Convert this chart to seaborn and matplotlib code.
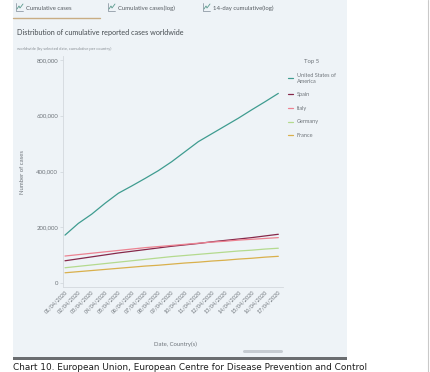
"""Cumulative reported cases, top 5 countries - recreated screenshot panel."""

import numpy as np
import pandas as pd
import matplotlib
matplotlib.use("Agg")
import matplotlib.pyplot as plt
from matplotlib.lines import Line2D
from matplotlib.patches import Rectangle, FancyBboxPatch
import seaborn as sns

# Data
DATES = [f"{d:02d}/04/2020" for d in range(1, 18)]
COUNTRIES = ["United States of America", "Spain", "Italy", "Germany", "France"]
USA = [172000, 214000, 247000, 286000, 322000, 348000, 375000, 403000, 435000,
       471000, 507000, 535000, 563000, 591000, 621000, 650000, 680000]
SPAIN = [80000, 87000, 94000, 101000, 108000, 114000, 120000, 126000, 132000,
         137000, 142000, 148000, 153000, 158000, 163000, 169000, 175000]
ITALY = [97000, 102000, 107000, 112000, 117000, 122000, 127000, 131000, 135000,
         139000, 143000, 147000, 150000, 154000, 157000, 160000, 163000]
GERMANY = [55000, 60000, 65000, 70000, 75000, 80000, 85000, 90000, 95000,
           99000, 103000, 107000, 111000, 115000, 118000, 122000, 125000]
FRANCE = [37000, 41000, 45000, 49000, 53000, 57000, 61000, 64000, 68000,
          72000, 75000, 79000, 82000, 86000, 89000, 93000, 96000]
TABS = ["Cumulative cases", "Cumulative cases(log)", "14-day cumulative(log)"]

COLORS = {
    "United States of America": "#3f9c90",
    "Spain": "#86284a",
    "Italy": "#ec8291",
    "Germany": "#b4da8e",
    "France": "#d9b04c",
}

W, H = 430, 372
PANEL = "#eef3f7"
GREY = "#6f757b"

sns.set_theme(style="white")
plt.rcParams["font.family"] = ["Lato", "DejaVu Sans"]

series = [USA, SPAIN, ITALY, GERMANY, FRANCE]
rows = []
for name, vals in zip(COUNTRIES, series):
    for i, v in enumerate(vals):
        rows.append({"Day": i, "Date": DATES[i], "Country": name, "Cases": v})
df = pd.DataFrame(rows)

fig = plt.figure(figsize=(W / 100, H / 100), dpi=100)
fig.patch.set_facecolor("white")


def fx(px):
    return px / W


def fy(py):
    return 1 - py / H


# panel background, bottom bar, right border
fig.add_artist(Rectangle((fx(13), fy(357)), fx(334), 357 / H,
                         facecolor=PANEL, edgecolor="none", zorder=0))
fig.add_artist(Rectangle((fx(13), fy(360)), fx(334), 3 / H,
                         facecolor="#6a6d70", edgecolor="none", zorder=1))
fig.add_artist(Line2D([fx(428), fx(428)], [0, 1], color="#c9c9c9", lw=0.8))

# tabs
tab_x = [16, 108, 203]
for x, label in zip(tab_x, TABS):
    fig.add_artist(Line2D([fx(x), fx(x), fx(x + 7)], [fy(3), fy(11), fy(11)],
                          color="#7d8a96", lw=0.5))
    fig.add_artist(Line2D([fx(x + 1), fx(x + 3), fx(x + 4), fx(x + 7)],
                          [fy(9), fy(6), fy(8), fy(4)], color="#5b9a8e", lw=0.6))
    fig.text(fx(x + 10), fy(8), label, fontsize=4.3, color="#555b61", va="center")
fig.add_artist(Line2D([fx(13), fx(100)], [fy(17.5), fy(17.5)],
                      color="#c9ad84", lw=1.0))

# title and subtitle
fig.text(fx(17), fy(33), "Distribution of cumulative reported cases worldwide",
         fontsize=5.2, color="#474d52", va="center")
fig.text(fx(17), fy(49), "worldwide (by selected date, cumulative per country)",
         fontsize=3.0, color="#8a9096", va="center")

# main axes
ax = fig.add_axes([fx(63), fy(287), fx(220), (287 - 56) / H])
ax.set_facecolor("none")
sns.lineplot(data=df, x="Day", y="Cases", hue="Country", hue_order=COUNTRIES,
             palette=COLORS, linewidth=0.9, ax=ax, legend=False)
ax.set_xlim(-0.15, 16.35)
ax.set_ylim(-14000, 814000)
ax.set_yticks([0, 200000, 400000, 600000, 800000])
ax.set_yticklabels([f"{v:,}" for v in [0, 200000, 400000, 600000, 800000]])
ax.set_xticks(range(len(DATES)))
ax.set_xticklabels(DATES, rotation=45, ha="right", rotation_mode="anchor")
ax.tick_params(axis="y", labelsize=4.3, labelcolor=GREY, length=2, width=0.4,
               color="#c6ccd2", pad=1.5, left=True)
ax.tick_params(axis="x", labelsize=4.0, labelcolor=GREY, length=0, pad=2)
for s in ["top", "right"]:
    ax.spines[s].set_visible(False)
for s in ["left", "bottom"]:
    ax.spines[s].set_color("#d3d8dd")
    ax.spines[s].set_linewidth(0.6)
ax.set_xlabel("")
ax.set_ylabel("")
fig.text(fx(23), fy(172), "Number of cases", rotation=90, fontsize=4.3,
         color=GREY, ha="center", va="center")
fig.text(fx(175), fy(344), "Date, Country(s)", fontsize=4.3, color=GREY,
         ha="center", va="center")

# legend
handles = [Line2D([0], [0], color=COLORS[c], lw=0.9) for c in COUNTRIES]
labels = ["United States of\nAmerica", "Spain", "Italy", "Germany", "France"]
leg = fig.legend(handles, labels, title="Top 5", loc="upper left",
                 bbox_to_anchor=(fx(286), fy(57)), frameon=False,
                 fontsize=4.0, title_fontsize=4.3, handlelength=0.9,
                 handletextpad=0.6, labelspacing=1.55, borderaxespad=0)
for t in leg.get_texts():
    t.set_color(GREY)
leg.get_title().set_color(GREY)

# scrollbar
fig.add_artist(FancyBboxPatch((fx(243), fy(353)), fx(40), 3 / H,
                              boxstyle="round,pad=0,rounding_size=0.004",
                              facecolor="#c5cbd1", edgecolor="none"))

# caption
fig.text(fx(13), fy(362.5), "Chart 10. European Union, European Centre for Disease Prevention and Control",
         fontsize=6.4, color="#1e1e1e", va="top", family=["DejaVu Sans"])

fig.savefig("out.png", dpi=100)
